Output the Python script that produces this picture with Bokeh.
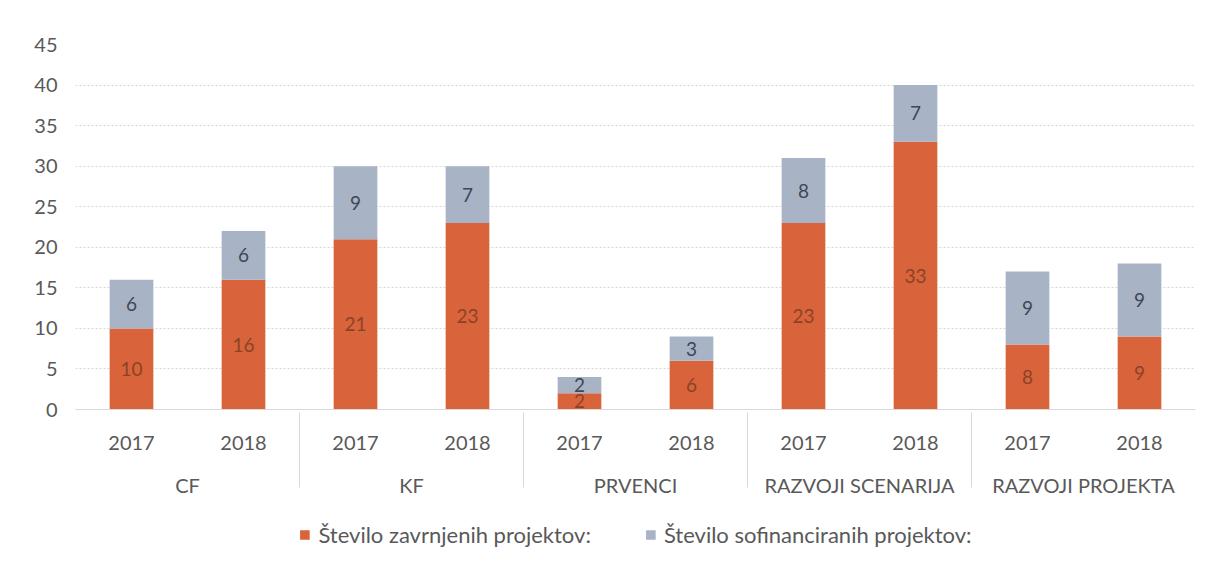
from bokeh.plotting import figure
from bokeh.layouts import column
from bokeh.models import ColumnDataSource, FactorRange, Range1d, Legend, LegendItem
from bokeh.core.properties import value
from bokeh.embed import file_html
from bokeh.resources import INLINE

groups = ["CF", "KF", "PRVENCI", "RAZVOJI SCENARIJA", "RAZVOJI PROJEKTA"]
years = ["2017", "2018"]
zavrnjeni = [10, 16, 21, 23, 2, 6, 23, 33, 8, 9]
sofinancirani = [6, 6, 9, 7, 2, 3, 8, 7, 9, 9]
series_names = ["Število zavrnjenih projektov:", "Število sofinanciranih projektov:"]
y_ticks = [0, 5, 10, 15, 20, 25, 30, 35, 40, 45]

FONT = "Lato"
RED = "#D9633A"
GRAY = "#A9B3C6"
COLORS = [RED, GRAY]

factors = [(g, y) for g in groups for y in years]
source = ColumnDataSource(dict(
    x=factors,
    zav=zavrnjeni,
    sof=sofinancirani,
    y_zav=[z / 2 for z in zavrnjeni],
    y_sof=[z + s / 2 for z, s in zip(zavrnjeni, sofinancirani)],
    t_zav=[str(v) for v in zavrnjeni],
    t_sof=[str(v) for v in sofinancirani],
))

p = figure(
    x_range=FactorRange(*factors, range_padding=0, group_padding=0, factor_padding=0),
    y_range=Range1d(0, 45),
    frame_width=1120, frame_height=365,
    output_backend="svg", toolbar_location=None,
    min_border_left=75, min_border_right=5, min_border_top=44, min_border_bottom=0,
)

p.vbar_stack(["zav", "sof"], x="x", width=0.39, source=source,
             color=COLORS, line_color=None)

p.text(x="x", y="y_zav", text="t_zav", source=source, text_align="center",
       text_baseline="middle", text_font=value(FONT), text_font_size="19px",
       text_color="#8A4328")
p.text(x="x", y="y_sof", text="t_sof", source=source, text_align="center",
       text_baseline="middle", text_font=value(FONT), text_font_size="19px",
       text_color="#3E4757")

# axes
p.yaxis.ticker = y_ticks
p.yaxis.axis_line_color = None
p.yaxis.major_tick_line_color = None
p.yaxis.minor_tick_line_color = None
p.yaxis.major_label_text_font = FONT
p.yaxis.major_label_text_font_size = "20px"
p.yaxis.major_label_text_color = "#595959"
p.yaxis.major_label_standoff = 12

p.xaxis.axis_line_color = "#D9D9D9"
p.xaxis.major_tick_line_color = None
p.xaxis.minor_tick_line_color = None
p.xaxis.major_label_text_font = FONT
p.xaxis.major_label_text_font_size = "20px"
p.xaxis.major_label_text_color = "#595959"
p.xaxis.major_label_standoff = 20
p.xaxis.group_text_font = FONT
p.xaxis.group_text_font_size = "20px"
p.xaxis.group_text_font_style = "normal"
p.xaxis.group_text_color = "#595959"
p.xaxis.separator_line_color = "#D9D9D9"
p.xaxis.separator_line_width = 1

p.xgrid.grid_line_color = None
p.ygrid.grid_line_color = "#D6D6D6"
p.ygrid.grid_line_dash = "2 2"
p.outline_line_color = None

# legend in its own strip below the chart (its bars lie outside the visible y range)
lg = figure(width=1200, height=70, output_backend="svg", toolbar_location=None,
            x_range=FactorRange(*factors), y_range=Range1d(1000, 1001),
            min_border_left=40, min_border_right=0, min_border_top=0, min_border_bottom=0)
lg.axis.visible = False
lg.grid.visible = False
lg.outline_line_color = None
lg_renderers = lg.vbar_stack(["zav", "sof"], x="x", width=0.39, source=source,
                             color=COLORS, line_color=None)
items = [LegendItem(label=name, renderers=[r]) for name, r in zip(series_names, lg_renderers)]
legend = Legend(items=items, orientation="horizontal", location="center",
                label_text_font=FONT, label_text_font_size="22px", label_text_color="#595959",
                glyph_width=12, glyph_height=12, spacing=53, border_line_color=None,
                background_fill_alpha=0, margin=0, padding=0, label_standoff=8)
lg.add_layout(legend)

open("out.html", "w").write(file_html(column(p, lg), INLINE))
